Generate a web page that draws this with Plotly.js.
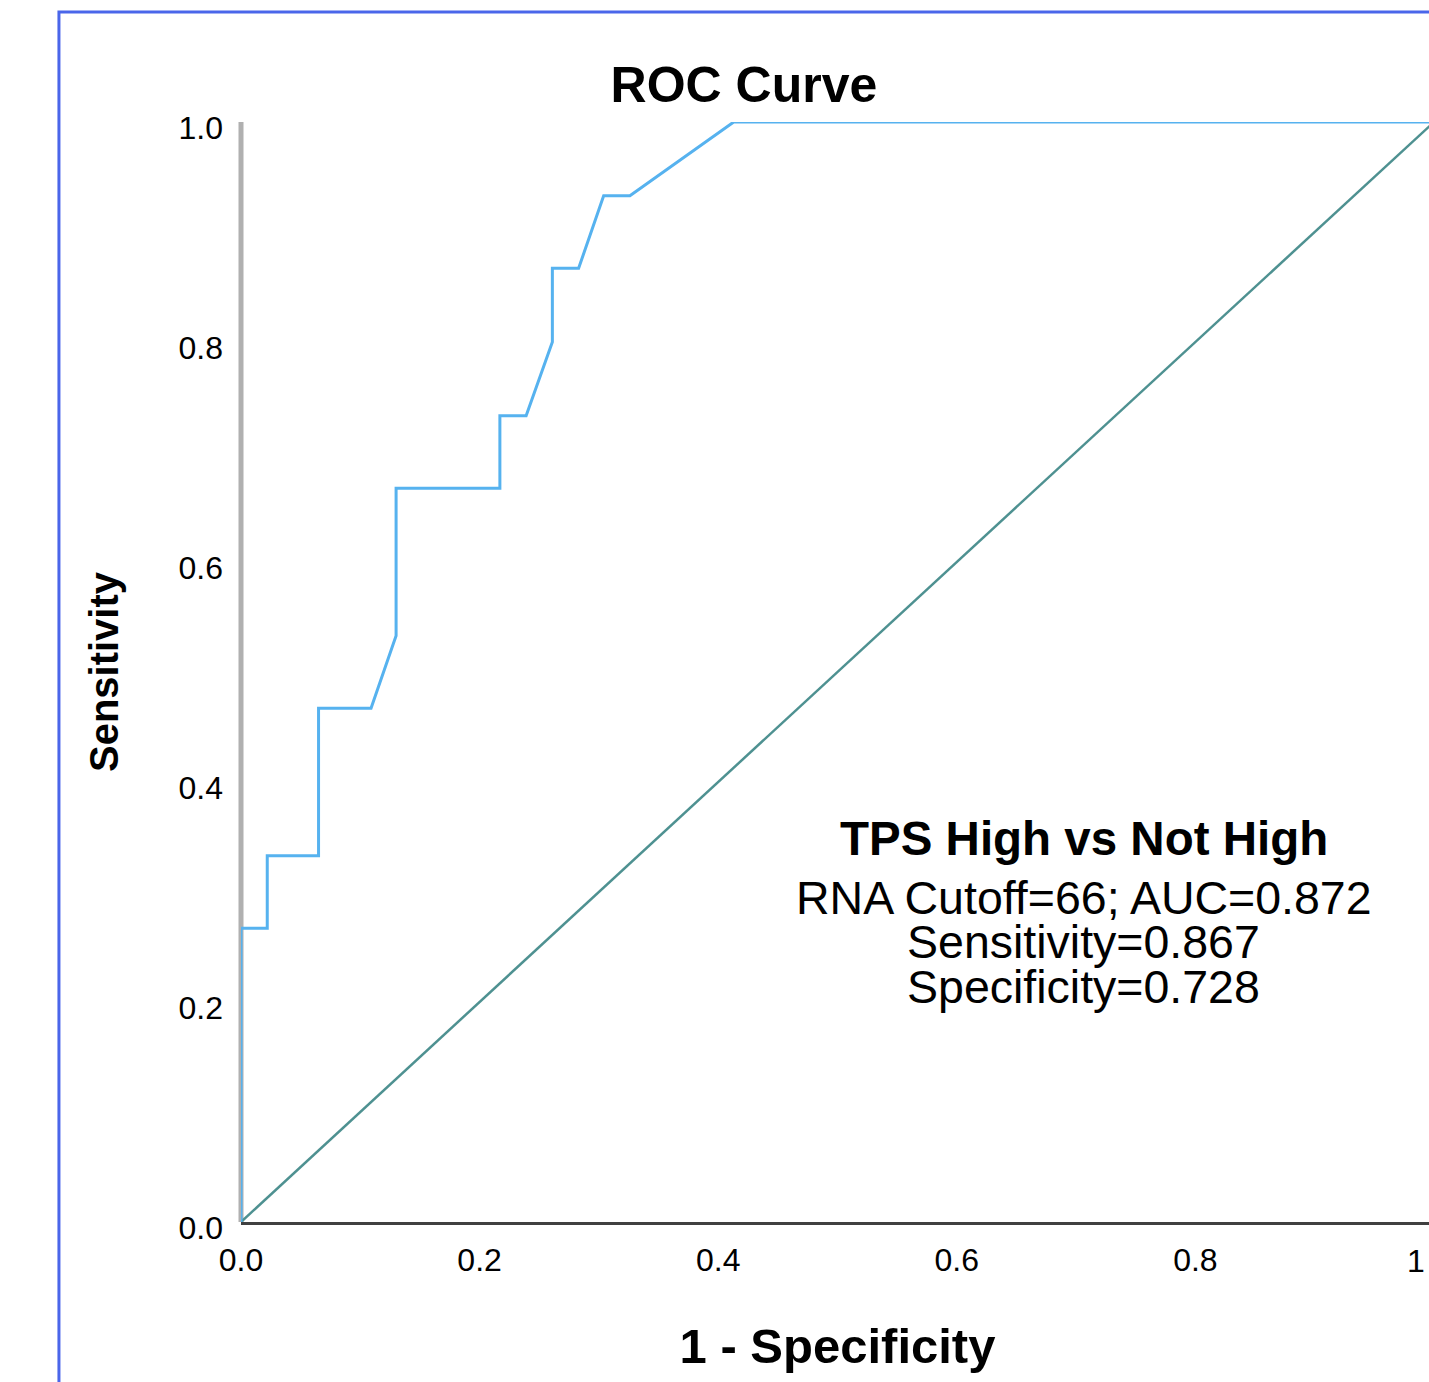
<!DOCTYPE html>
<html>
<head>
<meta charset="utf-8">
<script src="https://cdn.plot.ly/plotly-3.0.1.min.js"></script>
<style>
html, body { margin: 0; padding: 0; overflow: hidden; background: #ffffff; }
#chart { width: 1440px; height: 1382px; }
</style>
</head>
<body>
<div id="chart"></div>
<script>
// ROC curve points (1 - specificity, sensitivity)
const fpr = [0, 0, 0.022, 0.022, 0.065, 0.065, 0.109, 0.130, 0.130, 0.217, 0.217, 0.239, 0.261, 0.261, 0.283, 0.304, 0.326, 0.413, 1.0];
const tpr = [0, 0.267, 0.267, 0.333, 0.333, 0.467, 0.467, 0.533, 0.667, 0.667, 0.733, 0.733, 0.800, 0.867, 0.867, 0.933, 0.933, 1.0, 1.0];
// reference line
const refX = [0, 1];
const refY = [0, 1];
// ticks
const xTickVals = [0, 0.2, 0.4, 0.6, 0.8];
const xTickText = ["0.0", "0.2", "0.4", "0.6", "0.8"];
const xLastTickVal = 1;
const xLastTickText = "1";
const yTickVals = [0, 0.2, 0.4, 0.6, 0.8, 1.0];
const yTickText = ["0.0", "0.2", "0.4", "0.6", "0.8", "1.0"];
// texts
const chartTitle = "ROC Curve";
const xTitle = "1 - Specificity";
const yTitle = "Sensitivity";
const noteHeader = "TPS High vs Not High";
const noteLines = ["RNA Cutoff=66; AUC=0.872", "Sensitivity=0.867", "Specificity=0.728"];

const FONT = "Arial, 'Liberation Sans', sans-serif";

const traces = [
  {
    x: refX, y: refY, type: "scatter", mode: "lines",
    line: { color: "#4e9191", width: 2.5 },
    cliponaxis: false, hoverinfo: "skip", showlegend: false
  },
  {
    x: fpr, y: tpr, type: "scatter", mode: "lines",
    line: { color: "#56b2ef", width: 3 },
    cliponaxis: false, hoverinfo: "skip", showlegend: false
  }
];

const noteY = [0.2945, 0.2545, 0.2136];
const annotations = [
  {
    xref: "paper", yref: "paper", x: 0.7066, y: 0.349,
    xanchor: "center", yanchor: "middle", showarrow: false,
    text: "<b>" + noteHeader + "</b>",
    font: { family: FONT, size: 47.5, color: "#000000" }
  }
].concat(noteLines.map((t, i) => ({
  xref: "paper", yref: "paper", x: 0.7066, y: noteY[i],
  xanchor: "center", yanchor: "middle", showarrow: false,
  text: t,
  font: { family: FONT, size: 46.5, color: "#000000" }
}))).concat([
  {
    xref: "x", yref: "paper", x: xLastTickVal, y: 0,
    xanchor: "center", yanchor: "top", showarrow: false,
    xshift: -18, yshift: -19,
    text: xLastTickText,
    font: { family: FONT, size: 32, color: "#000000" }
  }
]);

const layout = {
  width: 1440,
  height: 1382,
  margin: { l: 241, r: 6, t: 122, b: 160 },
  paper_bgcolor: "#ffffff",
  plot_bgcolor: "#ffffff",
  showlegend: false,
  font: { family: FONT, color: "#000000" },
  title: {
    text: "<b>" + chartTitle + "</b>",
    font: { family: FONT, size: 50, color: "#000000" },
    xref: "paper", x: 0.4216, xanchor: "center",
    yref: "container", y: 0.939, yanchor: "middle"
  },
  xaxis: {
    range: [0, 1],
    showgrid: false, zeroline: false,
    showline: true, linecolor: "#404040", linewidth: 3,
    ticks: "",
    tickmode: "array", tickvals: xTickVals, ticktext: xTickText,
    tickfont: { family: FONT, size: 32, color: "#000000" },
    ticklabelstandoff: 8,
    title: {
      text: "<b>" + xTitle + "</b>",
      font: { family: FONT, size: 49, color: "#000000" },
      standoff: 52
    },
    fixedrange: true
  },
  yaxis: {
    range: [0, 1],
    showgrid: false, zeroline: false,
    showline: false,
    ticks: "",
    tickmode: "array", tickvals: yTickVals, ticktext: yTickText,
    tickfont: { family: FONT, size: 32, color: "#000000" },
    ticklabelstandoff: 17,
    ticklabelshift: 6,
    title: {
      text: "<b>" + yTitle + "</b>",
      font: { family: FONT, size: 40, color: "#000000" },
      standoff: 47
    },
    fixedrange: true
  },
  shapes: [
    {
      type: "rect", xref: "paper", yref: "paper",
      x0: -0.1526, x1: 1.5, y0: -0.5, y1: 1.1,
      line: { color: "#4a66ea", width: 3 },
      fillcolor: "rgba(0,0,0,0)",
      layer: "below"
    },
    {
      type: "line", xref: "paper", yref: "paper",
      x0: 0, x1: 0, y0: 0, y1: 1,
      line: { color: "#b0b0b0", width: 5 },
      layer: "below"
    }
  ],
  annotations: annotations
};

Plotly.newPlot("chart", traces, layout, { displayModeBar: false, staticPlot: true });
</script>
</body>
</html>
